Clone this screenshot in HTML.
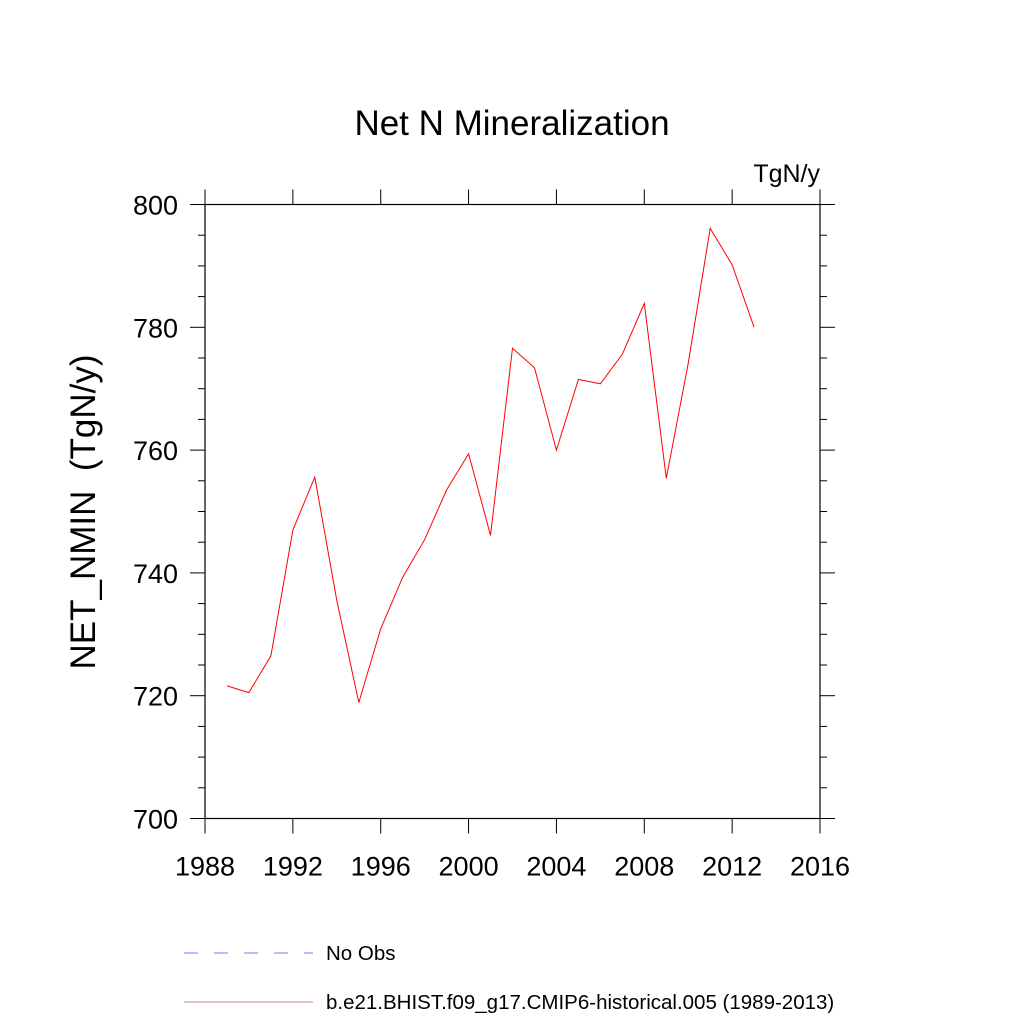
<!DOCTYPE html>
<html><head><meta charset="utf-8"><style>
body{margin:0;background:#fff}
svg{display:block;font-family:"Liberation Sans",Arial,sans-serif}
</style></head><body>
<svg id="chart" width="1024" height="1024" viewBox="0 0 1024 1024">
<rect width="1024" height="1024" fill="#fff"/>
<text x="512" y="135" font-size="35" text-anchor="middle">Net N Mineralization</text>
<text x="820" y="182" font-size="25" text-anchor="end">TgN/y</text>
<text transform="translate(95,512) rotate(-90)" font-size="35" text-anchor="middle">NET_NMIN&#160;&#160;(TgN/y)</text>
<g id="axes"></g>
<g id="series"></g>
<g>
<line x1="184" y1="953" x2="313" y2="953" stroke="#7777ff" stroke-width="1" stroke-dasharray="14,16"/>
<text x="326" y="960" font-size="20.5">No Obs</text>
<line x1="184" y1="1002" x2="313" y2="1002" stroke="#c08080" stroke-width="1"/>
<text x="326" y="1009" font-size="20.5">b.e21.BHIST.f09_g17.CMIP6-historical.005 (1989-2013)</text>
</g>
</svg>
<script>
const years=[1989,1990,1991,1992,1993,1994,1995,1996,1997,1998,1999,2000,2001,2002,2003,2004,2005,2006,2007,2008,2009,2010,2011,2012,2013];
const values=[721.6,720.5,726.5,747.0,755.6,735.5,718.9,730.9,739.3,745.4,753.5,759.4,746.1,776.6,773.4,760.0,771.5,770.8,775.6,783.9,755.4,774.1,796.1,790.2,780.0];
const xTicks=[1988,1992,1996,2000,2004,2008,2012,2016];
const yTicks=[700,720,740,760,780,800];
const L=205,R=820,T=204.5,B=818.5;
const xs=v=>L+(v-1988)/(2016-1988)*(R-L);
const ys=v=>B-(v-700)/100*(B-T);
const NS='http://www.w3.org/2000/svg';
const ax=document.getElementById('axes');
function mk(tag,attrs,parent){const e=document.createElementNS(NS,tag);for(const k in attrs)e.setAttribute(k,attrs[k]);parent.appendChild(e);return e;}
const frame=mk('rect',{x:L,y:T,width:R-L,height:B-T,fill:'none',stroke:'#000','stroke-width':1.2},ax);


xTicks.forEach(t=>{
  const x=xs(t);
  mk('line',{x1:x,y1:B,x2:x,y2:B+15,stroke:'#000'},ax);
  mk('line',{x1:x,y1:T,x2:x,y2:T-15,stroke:'#000'},ax);
  const tx=mk('text',{x:x,y:B+57,'font-size':27,'text-anchor':'middle'},ax);
  tx.textContent=t;
  
  
});
for(let v=700;v<=800;v+=5){
  const y=ys(v),major=(v%20===0);const len=major?15:7;
  mk('line',{x1:L-len,y1:y,x2:L,y2:y,stroke:'#000'},ax);
  mk('line',{x1:R,y1:y,x2:R+len,y2:y,stroke:'#000'},ax);
}
yTicks.forEach(v=>{
  const tx=mk('text',{x:L-27,y:ys(v)+10,'font-size':27,'text-anchor':'end'},ax);
  tx.textContent=v;
  
  
});
const pts=years.map((y,i)=>xs(y).toFixed(1)+','+ys(values[i]).toFixed(1)).join(' ');
const line=mk('polyline',{points:pts,fill:'none',stroke:'#ff0000','stroke-width':1},document.getElementById('series'));


</script>
</body></html>
